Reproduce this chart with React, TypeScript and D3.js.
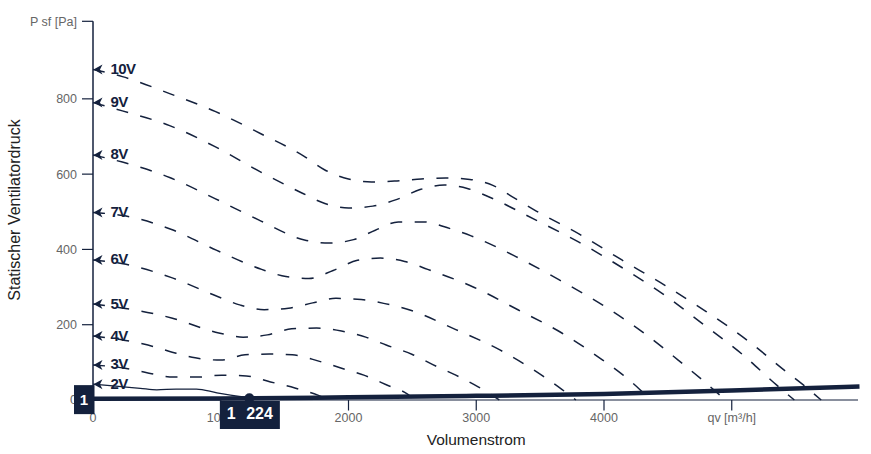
import React from "react";
import * as d3 from "d3";

const WIDTH = 871;
const HEIGHT = 454;

const NAVY = "#14213d";
const TICK_COLOR = "#666666";
const FONT = "'Liberation Sans', Arial, Helvetica, sans-serif";

// axis ticks
const X_TICKS = [0, 1000, 2000, 3000, 4000];
const X_UNIT_TICK = 5000;
const X_UNIT_LABEL = "qv [m³/h]";
const Y_TICKS = [0, 200, 400, 600, 800];
const Y_UNIT_LABEL = "P sf [Pa]";
const X_TITLE = "Volumenstrom";
const Y_TITLE = "Statischer Ventilatordruck";

// fan curves, [volume flow m³/h, static pressure Pa]
const curve10V: [number, number][] = [
  [0, 878], [230, 859], [600, 814], [960, 766], [1310, 708], [1650, 648],
  [1815, 611], [2000, 587], [2180, 579], [2380, 582], [2570, 587], [2760, 590],
  [2950, 586], [3130, 570], [3300, 536], [3470, 502], [3810, 440], [4140, 372],
  [4480, 304], [4800, 235], [5120, 159], [5420, 77], [5560, 40], [5700, 0],
];
const curve9V: [number, number][] = [
  [0, 790], [230, 768], [600, 729], [955, 673], [1300, 608], [1635, 550],
  [1815, 522], [2000, 510], [2190, 515], [2380, 533], [2560, 559], [2750, 571],
  [2930, 562], [3110, 538], [3460, 479], [3800, 420], [4140, 352], [4460, 282],
  [4770, 203], [5080, 122], [5350, 40], [5490, 0],
];
const curve8V: [number, number][] = [
  [0, 651], [230, 632], [600, 591], [955, 535], [1300, 478], [1655, 425],
  [1850, 417], [2040, 426], [2210, 451], [2390, 473], [2590, 473], [2770, 458],
  [2960, 436], [3310, 381], [3650, 319], [3990, 252], [4300, 181], [4610, 98],
  [4760, 56], [4950, 0],
];
const curve7V: [number, number][] = [
  [0, 498], [235, 490], [615, 453], [965, 398], [1320, 347], [1510, 328],
  [1690, 323], [1880, 344], [2070, 371], [2250, 377], [2440, 368], [2620, 347],
  [2985, 299], [3330, 239], [3670, 178], [3990, 106], [4150, 66], [4280, 28],
  [4360, 0],
];
const curve6V: [number, number][] = [
  [0, 372], [235, 362], [615, 325], [975, 275], [1155, 252], [1340, 240],
  [1530, 244], [1720, 258], [1900, 270], [2100, 267], [2285, 256], [2480, 239],
  [2840, 187], [3185, 133], [3520, 64], [3675, 27], [3780, 0],
];
const curve5V: [number, number][] = [
  [0, 255], [240, 244], [615, 218], [985, 178], [1175, 167], [1365, 173],
  [1555, 189], [1750, 191], [1945, 183], [2135, 167], [2295, 146], [2500, 121],
  [2660, 94], [2840, 66], [3015, 35], [3180, 0],
];
const curve4V: [number, number][] = [
  [0, 170], [240, 159], [430, 146], [620, 127], [800, 112], [1000, 106],
  [1190, 120], [1380, 122], [1560, 120], [1760, 104], [1940, 85], [2120, 66],
  [2300, 40], [2465, 15], [2520, 0],
];
const curve3V: [number, number][] = [
  [0, 93], [240, 85], [430, 72], [630, 61], [820, 61], [1005, 66],
  [1200, 64], [1390, 48], [1580, 32], [1760, 13], [1850, 0],
];
const curve2V: [number, number][] = [
  [0, 42], [200, 36], [370, 31], [500, 27], [650, 29], [810, 29],
  [970, 19], [1224, 6],
];

const VOLTAGES = ["10V", "9V", "8V", "7V", "6V", "5V", "4V", "3V", "2V"];
const CURVES = [curve10V, curve9V, curve8V, curve7V, curve6V, curve5V, curve4V, curve3V, curve2V];
const ACTIVE = "2V";

// system curve
const SYSTEM_Q = [0, 1000, 2000, 3000, 4000, 5000, 6000];
const SYSTEM_P = [3, 4, 7, 11, 16, 25, 36];

// operating point
const OP_Q = 1224;
const OP_P = 4.7;
const OP_Q_LABEL = "1 224";
const OP_P_LABEL = "1";
const OP_P_LABEL_VALUE = 1;

export default function App(): JSX.Element {
  const x = d3.scaleLinear().domain([0, 6000]).range([93, 859.5]);
  const y = d3.scaleLinear().domain([0, 1006]).range([400, 21.3]);

  const line = d3
    .line<[number, number]>()
    .x((d) => x(d[0]))
    .y((d) => y(d[1]))
    .curve(d3.curveMonotoneX);

  const systemPath = line(SYSTEM_Q.map((q, i) => [q, SYSTEM_P[i]] as [number, number]));

  const x0 = x(0);
  const y0 = y(0);
  const yTop = y.range()[1];
  const xEnd = x.range()[1];

  const opX = x(OP_Q);
  const opY = y(OP_P);
  const boxYCenter = y(OP_P_LABEL_VALUE);

  return (
    <div style={{ position: "absolute", left: 0, top: 0 }}>
      <svg width={WIDTH} height={HEIGHT} style={{ display: "block", background: "#fff", fontFamily: FONT }}>
        {/* y axis title */}
        <text
          transform={`translate(20, 210) rotate(-90)`}
          textAnchor="middle"
          fontSize={16}
          fill="#222"
        >
          {Y_TITLE}
        </text>
        {/* x axis title */}
        <text x={x(3000)} y={445} textAnchor="middle" fontSize={15.5} fill="#222">
          {X_TITLE}
        </text>

        {/* y axis */}
        <line x1={x0} x2={x0} y1={yTop} y2={y0} stroke={NAVY} strokeWidth={1.5} />
        {Y_TICKS.map((t) => (
          <g key={`yt${t}`}>
            <line x1={x0 - 11} x2={x0} y1={y(t)} y2={y(t)} stroke={NAVY} strokeWidth={1.2} />
            <text x={x0 - 16} y={y(t)} dy="0.35em" textAnchor="end" fontSize={12.5} fill={TICK_COLOR}>
              {t}
            </text>
          </g>
        ))}
        <line x1={x0 - 11} x2={x0} y1={yTop} y2={yTop} stroke={NAVY} strokeWidth={1.2} />
        <text x={x0 - 16} y={yTop} dy="0.35em" textAnchor="end" fontSize={12.5} fill={TICK_COLOR}>
          {Y_UNIT_LABEL}
        </text>

        {/* x axis */}
        <line x1={x0} x2={xEnd - 1.5} y1={y0} y2={y0} stroke={NAVY} strokeWidth={1.2} />
        {X_TICKS.map((t) => (
          <g key={`xt${t}`}>
            <line x1={x(t)} x2={x(t)} y1={y0} y2={y0 + 10.5} stroke={NAVY} strokeWidth={1.2} />
            <text x={x(t)} y={y0 + 21.7} textAnchor="middle" fontSize={12.5} fill={TICK_COLOR}>
              {t}
            </text>
          </g>
        ))}
        <line x1={x(X_UNIT_TICK)} x2={x(X_UNIT_TICK)} y1={y0} y2={y0 + 10.5} stroke={NAVY} strokeWidth={1.2} />
        <text x={x(X_UNIT_TICK)} y={y0 + 21.7} textAnchor="middle" fontSize={12.5} fill={TICK_COLOR}>
          {X_UNIT_LABEL}
        </text>

        {/* fan curves */}
        {CURVES.map((c, i) => {
          const name = VOLTAGES[i];
          const active = name === ACTIVE;
          const sx = x(c[0][0]);
          const sy = y(c[0][1]);
          return (
            <g key={name}>
              <path
                d={line(c) || ""}
                fill="none"
                stroke={NAVY}
                strokeWidth={active ? 1.3 : 1.5}
                strokeDasharray={active ? undefined : "12 12.5"}
              />
              <path
                d={`M${sx + 0.5},${sy} L${sx + 9.5},${sy - 5} L${sx + 7},${sy} L${sx + 9.5},${sy + 5} Z`}
                fill={NAVY}
              />
              <text
                x={sx + 17.5}
                y={sy + 4.5}
                fontSize={15}
                fontWeight="bold"
                letterSpacing={-0.6}
                fill={NAVY}
              >
                {name}
              </text>
            </g>
          );
        })}

        {/* system curve */}
        <path d={systemPath || ""} fill="none" stroke={NAVY} strokeWidth={4.5} strokeLinecap="butt" />

        {/* operating point */}
        <circle cx={opX} cy={opY} r={5} fill={NAVY} />
        <rect x={opX - 29.5} y={y0 + 1} width={60} height={28} fill={NAVY} />
        <text
          x={opX + 0.5}
          y={y0 + 18.5}
          textAnchor="middle"
          fontSize={16}
          fontWeight="bold"
          wordSpacing={6}
          fill="#fff"
        >
          {OP_Q_LABEL}
        </text>
        <rect x={x0 - 19} y={boxYCenter - 14.5} width={20.5} height={29} fill={NAVY} />
        <text
          x={x0 - 9}
          y={boxYCenter + 5}
          textAnchor="middle"
          fontSize={15}
          fontWeight="bold"
          fill="#fff"
        >
          {OP_P_LABEL}
        </text>
      </svg>
    </div>
  );
}
